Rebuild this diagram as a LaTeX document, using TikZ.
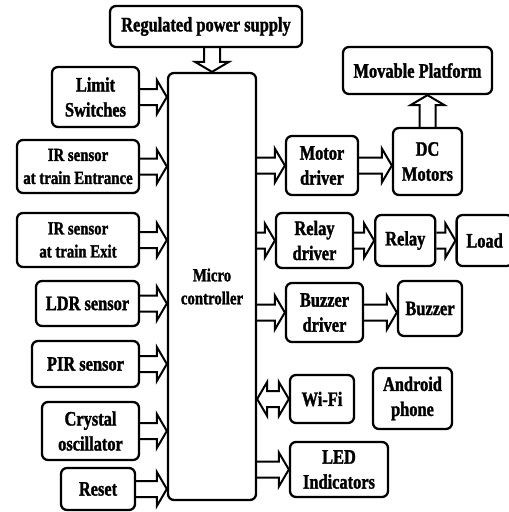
\documentclass[tikz,border=0pt]{standalone}
\usepackage{fontspec}
\setmainfont{Liberation Serif}[FakeStretch=0.8, BoldFeatures={FakeBold=1.5}]
\usetikzlibrary{positioning}
\usetikzlibrary{calc}
\def\shaftw{8pt}
\def\headw{17pt}
\def\headl{10pt}
\tikzset{line/.style={draw, line width=2pt, line join=miter,
  to path={($(\tikztotarget)!\headl!(\tikztostart)$) coordinate (hb)
    ($(\tikztostart)!\shaftw!90:(\tikztotarget)$) -- ($(hb)!\shaftw!90:(\tikztotarget)$)
    -- ($(hb)!\headw!90:(\tikztotarget)$) -- (\tikztotarget)
    -- ($(hb)!\headw!-90:(\tikztotarget)$) -- ($(hb)!\shaftw!-90:(\tikztotarget)$)
    -- ($(\tikztostart)!\shaftw!-90:(\tikztotarget)$)}}}
\tikzset{dline/.style={draw, line width=2pt, line join=miter,
  to path={($(\tikztostart)!\headl!(\tikztotarget)$) coordinate (ha)
    ($(\tikztotarget)!\headl!(\tikztostart)$) coordinate (hb)
    (\tikztostart) -- ($(ha)!\headw!-90:(\tikztostart)$) -- ($(ha)!\shaftw!-90:(\tikztostart)$)
    -- ($(hb)!\shaftw!90:(\tikztotarget)$) -- ($(hb)!\headw!90:(\tikztotarget)$)
    -- (\tikztotarget) -- ($(hb)!\headw!-90:(\tikztotarget)$) -- ($(hb)!\shaftw!-90:(\tikztotarget)$)
    -- ($(ha)!\shaftw!90:(\tikztostart)$) -- ($(ha)!\headw!90:(\tikztostart)$) -- cycle}}}

\begin{document}
\begin{tikzpicture}[x=1pt,y=-1pt]
\tikzstyle{block} = [rectangle, rounded corners=6pt, draw, line width=2.3pt, align=center, inner sep=1pt, font=\fontsize{20.5}{25}\selectfont\bfseries]
\tikzstyle{small} = [font=\fontsize{18.5}{23}\selectfont\bfseries]
\useasboundingbox (0,0) rectangle (509,512);

% blocks
    \node [block, minimum width=192, minimum height=41] (power) at (206,26.5) {Regulated power supply};
    \node [block, small, minimum width=88, minimum height=427] (micro) at (212,286.5) {Micro\\controller};
    % inputs
    \node [block, minimum width=87, minimum height=60] (limit) at (95.5,97) {Limit\\Switches};
    \node [block, small, minimum width=122, minimum height=53] (irin) at (78,166.5) {IR sensor\\at train Entrance};
    \node [block, small, minimum width=122, minimum height=54] (irout) at (78,240) {IR sensor\\at train Exit};
    \node [block, minimum width=103, minimum height=45] (ldr) at (87.5,303.5) {LDR sensor};
    \node [block, minimum width=107, minimum height=46] (pir) at (85.5,364) {PIR sensor};
    \node [block, minimum width=97, minimum height=58] (xtal) at (90.5,431) {Crystal\\oscillator};
    \node [block, minimum width=74, minimum height=42] (reset) at (98,489) {Reset};
    % outputs
    \node [block, minimum width=149, minimum height=47] (platform) at (417.5,70.5) {Movable Platform};
    \node [block, minimum width=72, minimum height=59] (motdrv) at (322,165.5) {Motor\\driver};
    \node [block, minimum width=69, minimum height=67] (dcm) at (427.5,161.5) {DC\\Motors};
    \node [block, minimum width=77, minimum height=55] (reldrv) at (314.5,240.5) {Relay\\driver};
    \node [block, minimum width=60, minimum height=51, right=20 of reldrv] (relay) {Relay};
    \node [block, minimum width=56, minimum height=51, right=19 of relay] (load) {Load};
    \node [block, minimum width=77, minimum height=59] (buzdrv) at (324.5,312.5) {Buzzer\\driver};
    \node [block, minimum width=64, minimum height=55] (buzzer) at (430,308.5) {Buzzer};
    \node [block, minimum width=64, minimum height=48] (wifi) at (322,399) {Wi-Fi};
    \node [block, minimum width=79, minimum height=61] (phone) at (412.5,398.5) {Android\\phone};
    \node [block, minimum width=98, minimum height=55] (led) at (339,469.5) {LED\\Indicators};
% arrows
    \path [line] (micro.north |- power.south) to (micro.north);
    \foreach \src in {limit,irin,irout,ldr,pir,xtal,reset}
        \path [line] (\src.east) to (\src.east -| micro.west);
    \foreach \dst in {motdrv,reldrv,buzdrv,led}
        \path [line] (micro.east |- \dst.west) to (\dst.west);
    \path [dline] (micro.east |- wifi.west) to (wifi.west);
    \path [line] (motdrv.east) to (motdrv.east -| dcm.west);
    \path [line] (reldrv.east) to (reldrv.east -| relay.west);
    \path [line] (relay.east) to (load.west);
    \path [line] (buzdrv.east) to (buzdrv.east -| buzzer.west);
    \path [line] (dcm.north) to (dcm.north |- platform.south);
\end{tikzpicture}
\end{document}
